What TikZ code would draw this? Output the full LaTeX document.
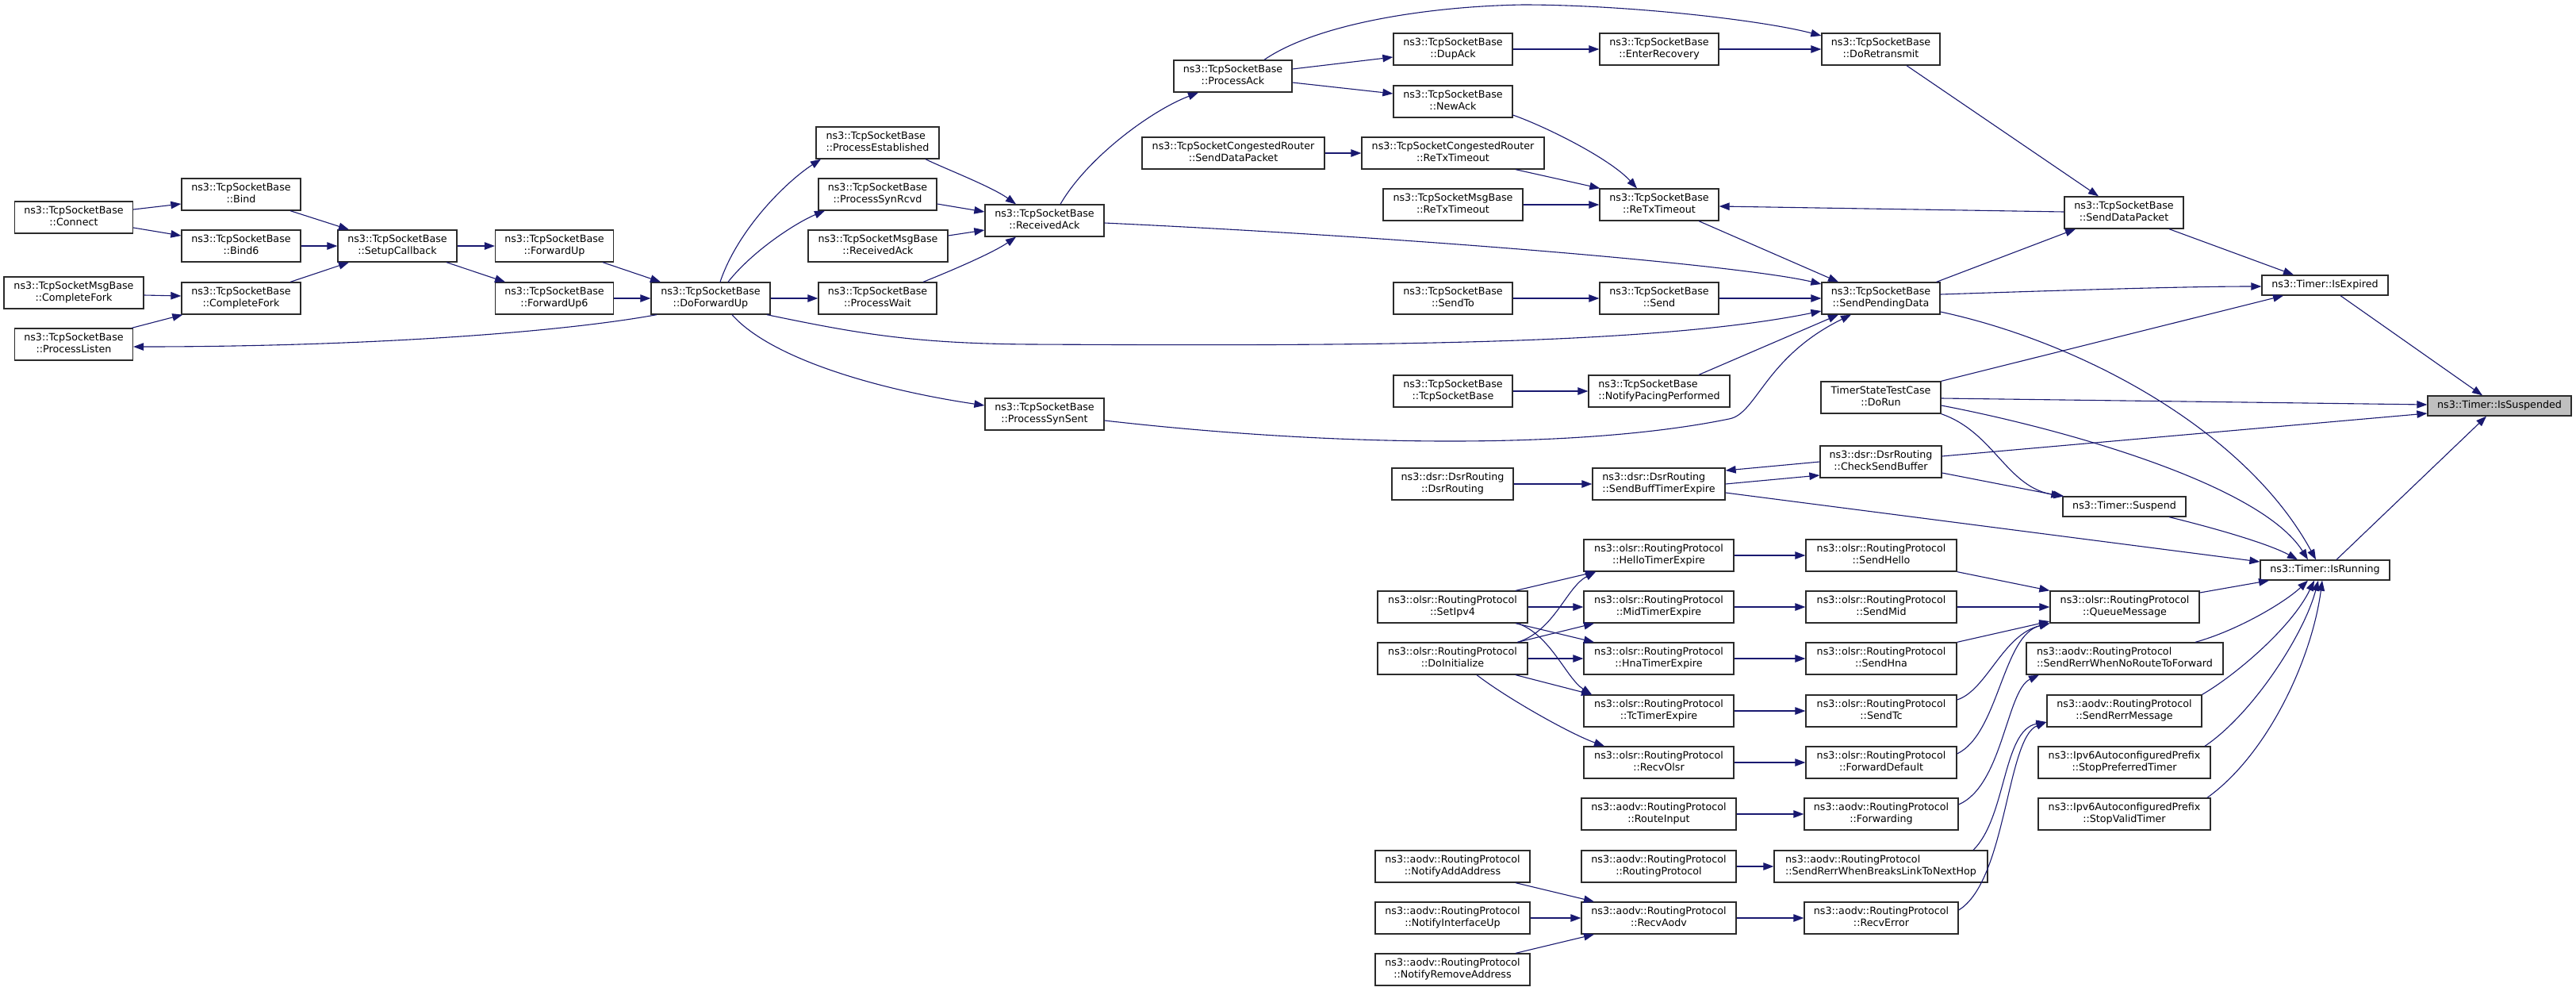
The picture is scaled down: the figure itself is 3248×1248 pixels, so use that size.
\documentclass[tikz,border=0pt]{standalone}
\usepackage{fontspec}
\setmainfont{DejaVu Sans}
\usetikzlibrary{arrows.meta,calc}
\definecolor{mblue}{HTML}{191970}
\definecolor{bcol}{HTML}{2B2B2B}
\definecolor{focus}{HTML}{BFBFBF}
\newdimen\twolw
\newcommand\lstrut{\rule[-4.5pt]{0pt}{15pt}}
\newcommand\twol[2]{%
  \setbox0=\hbox{\lstrut #1}\setbox2=\hbox{\lstrut #2}%
  \ifdim\wd0>\wd2 \twolw=\wd0 \else \twolw=\wd2 \fi
  \vbox{\offinterlineskip\hbox to\twolw{\unhcopy0\hfil}\hbox to\twolw{\hfil\unhcopy2\hfil}}}
\begin{document}
\begin{tikzpicture}[x=1pt,y=-1pt,
  nbox/.style={draw=bcol, line width=1.3pt, fill=white, rectangle, inner sep=0pt, minimum height=40pt, font=\fontsize{12.7pt}{15pt}\selectfont},
  sbox/.style={nbox, minimum height=25pt},
  bw/.style={minimum width=#1pt},
  cedge/.style={draw=mblue, line width=1.1pt, -{Triangle[length=13pt,width=9.5pt]}}]
\fill[white] (0,0) rectangle (3248,1248);
\useasboundingbox (0,0) rectangle (3248,1248);
% ---- nodes
\node[nbox,bw=149] (connect) at (93,274) {\twol{ns3::TcpSocketBase}{::Connect}};
\node[nbox,bw=150] (bind) at (304,245) {\twol{ns3::TcpSocketBase}{::Bind}};
\node[nbox,bw=150] (bind6) at (304,310) {\twol{ns3::TcpSocketBase}{::Bind6}};
\node[nbox,bw=176] (msgcfork) at (93,369) {\twol{ns3::TcpSocketMsgBase}{::CompleteFork}};
\node[nbox,bw=150] (cfork) at (304,376) {\twol{ns3::TcpSocketBase}{::CompleteFork}};
\node[nbox,bw=149] (plisten) at (93,434) {\twol{ns3::TcpSocketBase}{::ProcessListen}};
\node[nbox,bw=150] (setup) at (501,310) {\twol{ns3::TcpSocketBase}{::SetupCallback}};
\node[nbox,bw=149] (fwdup) at (699,310) {\twol{ns3::TcpSocketBase}{::ForwardUp}};
\node[nbox,bw=149] (fwdup6) at (699,376) {\twol{ns3::TcpSocketBase}{::ForwardUp6}};
\node[nbox,bw=150] (dofwd) at (896,376) {\twol{ns3::TcpSocketBase}{::DoForwardUp}};
\node[nbox,bw=155] (pest) at (1106.5,180) {\twol{ns3::TcpSocketBase}{::ProcessEstablished}};
\node[nbox,bw=149] (psynrcvd) at (1106.5,245) {\twol{ns3::TcpSocketBase}{::ProcessSynRcvd}};
\node[nbox,bw=176] (msgrack) at (1107,310) {\twol{ns3::TcpSocketMsgBase}{::ReceivedAck}};
\node[nbox,bw=149] (pwait) at (1106.5,376) {\twol{ns3::TcpSocketBase}{::ProcessWait}};
\node[nbox,bw=150] (psynsent) at (1317,522) {\twol{ns3::TcpSocketBase}{::ProcessSynSent}};
\node[nbox,bw=150] (rack) at (1317,278) {\twol{ns3::TcpSocketBase}{::ReceivedAck}};
\node[nbox,bw=149] (pack) at (1554.5,96) {\twol{ns3::TcpSocketBase}{::ProcessAck}};
\node[nbox,bw=230] (crsdp) at (1555,193) {\twol{ns3::TcpSocketCongestedRouter}{::SendDataPacket}};
\node[nbox,bw=150] (dupack) at (1832,62) {\twol{ns3::TcpSocketBase}{::DupAck}};
\node[nbox,bw=150] (newack) at (1832,128) {\twol{ns3::TcpSocketBase}{::NewAck}};
\node[nbox,bw=230] (crretx) at (1832,193) {\twol{ns3::TcpSocketCongestedRouter}{::ReTxTimeout}};
\node[nbox,bw=176] (msgretx) at (1832,258) {\twol{ns3::TcpSocketMsgBase}{::ReTxTimeout}};
\node[nbox,bw=150] (sendto) at (1832,376) {\twol{ns3::TcpSocketBase}{::SendTo}};
\node[nbox,bw=150] (tsbctor) at (1832,493) {\twol{ns3::TcpSocketBase}{::TcpSocketBase}};
\node[nbox,bw=153] (dsrctor) at (1831.5,610) {\twol{ns3::dsr::DsrRouting}{::DsrRouting}};
\node[nbox,bw=189] (setipv4) at (1831.5,765) {\twol{ns3::olsr::RoutingProtocol}{::SetIpv4}};
\node[nbox,bw=189] (doinit) at (1831.5,830) {\twol{ns3::olsr::RoutingProtocol}{::DoInitialize}};
\node[nbox,bw=195] (notifyadd) at (1831.5,1092) {\twol{ns3::aodv::RoutingProtocol}{::NotifyAddAddress}};
\node[nbox,bw=195] (notifyif) at (1831.5,1157) {\twol{ns3::aodv::RoutingProtocol}{::NotifyInterfaceUp}};
\node[nbox,bw=195] (notifyrem) at (1831.5,1222) {\twol{ns3::aodv::RoutingProtocol}{::NotifyRemoveAddress}};
\node[nbox,bw=150] (enterrec) at (2092,62) {\twol{ns3::TcpSocketBase}{::EnterRecovery}};
\node[nbox,bw=150] (retx) at (2092,258) {\twol{ns3::TcpSocketBase}{::ReTxTimeout}};
\node[nbox,bw=150] (send) at (2092,376) {\twol{ns3::TcpSocketBase}{::Send}};
\node[nbox,bw=178] (notifypacing) at (2092,493) {\twol{ns3::TcpSocketBase}{::NotifyPacingPerformed}};
\node[nbox,bw=167] (sbte) at (2091.5,610) {\twol{ns3::dsr::DsrRouting}{::SendBuffTimerExpire}};
\node[nbox,bw=189] (hello) at (2091.5,700) {\twol{ns3::olsr::RoutingProtocol}{::HelloTimerExpire}};
\node[nbox,bw=189] (midte) at (2091.5,765) {\twol{ns3::olsr::RoutingProtocol}{::MidTimerExpire}};
\node[nbox,bw=189] (hnate) at (2091.5,830) {\twol{ns3::olsr::RoutingProtocol}{::HnaTimerExpire}};
\node[nbox,bw=189] (tcte) at (2091.5,896) {\twol{ns3::olsr::RoutingProtocol}{::TcTimerExpire}};
\node[nbox,bw=189] (recvolsr) at (2091.5,961) {\twol{ns3::olsr::RoutingProtocol}{::RecvOlsr}};
\node[nbox,bw=195] (routeinput) at (2091.5,1026) {\twol{ns3::aodv::RoutingProtocol}{::RouteInput}};
\node[nbox,bw=195] (aodvrp) at (2091.5,1092) {\twol{ns3::aodv::RoutingProtocol}{::RoutingProtocol}};
\node[nbox,bw=195] (recvaodv) at (2091.5,1157) {\twol{ns3::aodv::RoutingProtocol}{::RecvAodv}};
\node[nbox,bw=149] (doretx) at (2371.5,62) {\twol{ns3::TcpSocketBase}{::DoRetransmit}};
\node[nbox,bw=149] (spd) at (2371.5,376) {\twol{ns3::TcpSocketBase}{::SendPendingData}};
\node[nbox,bw=151] (dorun) at (2371.5,501) {\twol{TimerStateTestCase}{::DoRun}};
\node[nbox,bw=153] (csb) at (2371.5,582) {\twol{ns3::dsr::DsrRouting}{::CheckSendBuffer}};
\node[nbox,bw=190] (sendhello) at (2372,700) {\twol{ns3::olsr::RoutingProtocol}{::SendHello}};
\node[nbox,bw=190] (sendmid) at (2372,765) {\twol{ns3::olsr::RoutingProtocol}{::SendMid}};
\node[nbox,bw=190] (sendhna) at (2372,830) {\twol{ns3::olsr::RoutingProtocol}{::SendHna}};
\node[nbox,bw=190] (sendtc) at (2372,896) {\twol{ns3::olsr::RoutingProtocol}{::SendTc}};
\node[nbox,bw=190] (fwddef) at (2372,961) {\twol{ns3::olsr::RoutingProtocol}{::ForwardDefault}};
\node[nbox,bw=194] (forwarding) at (2372,1026) {\twol{ns3::aodv::RoutingProtocol}{::Forwarding}};
\node[nbox,bw=269] (srwbl) at (2371.5,1092) {\twol{ns3::aodv::RoutingProtocol}{::SendRerrWhenBreaksLinkToNextHop}};
\node[nbox,bw=194] (recverror) at (2372,1157) {\twol{ns3::aodv::RoutingProtocol}{::RecvError}};
\node[nbox,bw=150] (sdp) at (2678,268) {\twol{ns3::TcpSocketBase}{::SendDataPacket}};
\node[sbox,bw=155] (suspend) at (2678.5,638.5) {\lstrut ns3::Timer::Suspend};
\node[nbox,bw=188] (queuemsg) at (2679,765) {\twol{ns3::olsr::RoutingProtocol}{::QueueMessage}};
\node[nbox,bw=248] (srwnr) at (2679,830) {\twol{ns3::aodv::RoutingProtocol}{::SendRerrWhenNoRouteToForward}};
\node[nbox,bw=195] (srmsg) at (2678.5,896) {\twol{ns3::aodv::RoutingProtocol}{::SendRerrMessage}};
\node[nbox,bw=217] (stoppref) at (2678.5,961) {\twol{ns3::Ipv6AutoconfiguredPrefix}{::StopPreferredTimer}};
\node[nbox,bw=217] (stopvalid) at (2678.5,1026) {\twol{ns3::Ipv6AutoconfiguredPrefix}{::StopValidTimer}};
\node[sbox,bw=159] (isexpired) at (2931.5,359.5) {\lstrut ns3::Timer::IsExpired};
\node[sbox,bw=163] (isrunning) at (2931.5,718.5) {\lstrut ns3::Timer::IsRunning};
\node[sbox,bw=181,fill=focus] (issusp) at (3151.5,511.5) {\lstrut ns3::Timer::IsSuspended};
% ---- edges
\draw[cedge] ($(connect.east)+(0,-10)$) -- ($(bind.west)+(0,12)$);
\draw[cedge] ($(connect.east)+(0,13)$) -- ($(bind6.west)+(0,-13)$);
\draw[cedge] ($(bind.south)+(62,0)$) -- ($(setup.north)+(-61,0)$);
\draw[cedge] (bind6.east) -- (setup.west);
\draw[cedge] ($(cfork.north)+(62,0)$) -- ($(setup.south)+(-61,0)$);
\draw[cedge] ($(msgcfork.east)+(0,3)$) -- ($(cfork.west)+(0,-3)$);
\draw[cedge] ($(plisten.north east)+(-2,0)$) -- ($(cfork.south west)+(2,0)$);
\draw[cedge] (setup.east) -- (fwdup.west);
\draw[cedge] ($(setup.south)+(62,0)$) -- ($(fwdup6.north)+(-62,0)$);
\draw[cedge] ($(fwdup.south)+(61,0)$) -- ($(dofwd.north)+(-63,0)$);
\draw[cedge] (fwdup6.east) -- (dofwd.west);
\draw[cedge] ($(dofwd.south)+(-68,0)$) .. controls (700,420) and (450,437) .. ($(plisten.east)+(0,3)$);
\draw[cedge] ($(dofwd.north)+(12,0)$) .. controls (930,290) and (990,230) .. ($(pest.south)+(-71.5,0)$);
\draw[cedge] ($(dofwd.north)+(22,0)$) .. controls (950,315) and (1005,280) .. ($(psynrcvd.south)+(-66.5,0)$);
\draw[cedge] (dofwd.east) -- (pwait.west);
\draw[cedge] ($(dofwd.south)+(27,0)$) .. controls (970,450) and (1100,490) .. ($(psynsent.west)+(0,-11)$);
\draw[cedge] ($(dofwd.south)+(71,0)$) .. controls (1080,420) and (1150,433) .. (1300,434) .. controls (1700,436) and (2080,436) .. ($(spd.west)+(0,16)$);
\draw[cedge] ($(pest.south)+(60.5,0)$) .. controls (1190,212) and (1250,235) .. ($(rack.north)+(-36,0)$);
\draw[cedge] ($(psynrcvd.east)+(0,12)$) -- ($(rack.west)+(0,-11)$);
\draw[cedge] ($(msgrack.east)+(0,-13)$) -- ($(rack.west)+(0,12)$);
\draw[cedge] ($(pwait.north)+(57.5,0)$) .. controls (1190,345) and (1250,320) .. ($(rack.south)+(-36,0)$);
\draw[cedge] ($(rack.north)+(20,0)$) .. controls (1370,200) and (1450,140) .. ($(pack.south)+(-43.5,0)$);
\draw[cedge] ($(rack.east)+(0,3)$) .. controls (1800,300) and (2200,335) .. ($(spd.west)+(0,-18)$);
\draw[cedge] ($(pack.east)+(0,-9)$) -- ($(dupack.west)+(0,10)$);
\draw[cedge] ($(pack.east)+(0,8)$) -- ($(newack.west)+(0,-10)$);
\draw[cedge] ($(pack.north)+(39.5,0)$) .. controls (1660,30) and (1800,8) .. (1920,6) .. controls (2050,6) and (2220,25) .. ($(doretx.west)+(0,-17)$);
\draw[cedge] (dupack.east) -- (enterrec.west);
\draw[cedge] (enterrec.east) -- (doretx.west);
\draw[cedge] ($(newack.east)+(0,17)$) .. controls (1950,160) and (2030,200) .. ($(retx.north)+(-28,0)$);
\draw[cedge] (crsdp.east) -- (crretx.west);
\draw[cedge] ($(crretx.south)+(79,0)$) -- ($(retx.north west)+(1,0)$);
\draw[cedge] (msgretx.east) -- (retx.west);
\draw[cedge] ($(sdp.west)+(0,-1)$) -- ($(retx.east)+(0,2)$);
\draw[cedge] ($(retx.south)+(50,0)$) -- ($(spd.north)+(-53.5,0)$);
\draw[cedge] (sendto.east) -- (send.west);
\draw[cedge] (send.east) -- (spd.west);
\draw[cedge] ($(doretx.south)+(32.5,0)$) -- ($(sdp.north)+(-32,0)$);
\draw[cedge] ($(spd.north east)+(-5,0)$) -- ($(sdp.south)+(-61,0)$);
\draw[cedge] ($(sdp.south)+(57,0)$) -- ($(isexpired.north)+(-39.5,0)$);
\draw[cedge] ($(spd.east)+(0,-5)$) .. controls (2600,366) and (2750,361) .. ($(isexpired.west)+(0,1.5)$);
\draw[cedge] (dorun.north east) -- ($(isexpired.south)+(-52.5,0)$);
\draw[cedge] ($(isexpired.south)+(19.5,0)$) -- ($(issusp.north)+(-21.5,0)$);
\draw[cedge] ($(spd.east)+(0,17)$) .. controls (2620,430) and (2830,540) .. ($(isrunning.north)+(-11.5,0)$);
\draw[cedge] ($(dorun.east)+(0,1)$) -- ($(issusp.west)+(0,-1.5)$);
\draw[cedge] ($(dorun.east)+(0,10)$) .. controls (2600,540) and (2850,610) .. ($(isrunning.north)+(-21.5,0)$);
\draw[cedge] (dorun.south east) .. controls (2515,545) and (2530,615) .. ($(suspend.north west)+(2,0)$);
\draw[cedge] ($(csb.east)+(0,-7)$) -- ($(issusp.west)+(0,9.5)$);
\draw[cedge] ($(csb.east)+(0,14)$) -- ($(suspend.north west)+(-1,0)$);
\draw[cedge] ($(sbte.east)+(0,11)$) -- ($(isrunning.west)+(0,-10.5)$);
\draw[cedge] ($(suspend.south)+(56.5,0)$) .. controls (2790,665) and (2860,685) .. ($(isrunning.north)+(-34.5,0)$);
\draw[cedge] ($(isrunning.north)+(14.5,0)$) -- ($(issusp.south)+(-16.5,0)$);
\draw[cedge] (sendhello.south east) -- (queuemsg.north west);
\draw[cedge] (sendmid.east) -- (queuemsg.west);
\draw[cedge] (sendhna.north east) -- ($(queuemsg.west)+(0,18)$);
\draw[cedge] ($(queuemsg.east)+(0,-18)$) -- ($(isrunning.south)+(-70.5,0)$);
\draw[cedge] ($(srwnr.north)+(89,0)$) .. controls (2820,795) and (2880,760) .. ($(isrunning.south)+(-21.5,0)$);
\draw[cedge] (srmsg.north east) .. controls (2820,850) and (2890,790) .. ($(isrunning.south)+(-13.5,0)$);
\draw[cedge] ($(stoppref.north)+(101.5,0)$) .. controls (2840,900) and (2905,800) .. ($(isrunning.south)+(-8.5,0)$);
\draw[cedge] ($(stopvalid.north)+(104.5,0)$) .. controls (2860,950) and (2915,830) .. ($(isrunning.south)+(-3.5,0)$);
\draw[cedge] ($(sendtc.east)+(0,-14)$) .. controls (2505,870) and (2525,800) .. (queuemsg.south west);
\draw[cedge] ($(fwddef.east)+(0,-11)$) .. controls (2520,925) and (2525,800) .. (queuemsg.south west);
\draw[cedge] ($(forwarding.east)+(0,-12)$) .. controls (2525,990) and (2530,870) .. ($(srwnr.south)+(-108,0)$);
\draw[cedge] ($(srwbl.north)+(116.5,0)$) .. controls (2530,1030) and (2525,920) .. ($(srmsg.west)+(0,14)$);
\draw[cedge] ($(recverror.east)+(0,-10)$) .. controls (2530,1110) and (2530,930) .. ($(srmsg.west)+(0,14)$);
\draw[cedge] (tsbctor.east) -- (notifypacing.west);
\draw[cedge] ($(notifypacing.north)+(50,0)$) -- ($(spd.south)+(-53.5,0)$);
\draw[cedge] ($(psynsent.east)+(0,8)$) .. controls (1700,565) and (2000,565) .. (2180,528) .. controls (2215,522) and (2225,450) .. ($(spd.south)+(-37.5,0)$);
\draw[cedge] (dsrctor.east) -- (sbte.west);
\draw[cedge] (csb.west) -- ($(sbte.east)+(0,-17)$);
\draw[cedge] (sbte.east) -- ($(csb.west)+(0,17)$);
\draw[cedge] (hello.east) -- (sendhello.west);
\draw[cedge] (midte.east) -- (sendmid.west);
\draw[cedge] (hnate.east) -- (sendhna.west);
\draw[cedge] ($(setipv4.north)+(79.5,0)$) -- ($(hello.south)+(-79.5,0)$);
\draw[cedge] (setipv4.east) -- (midte.west);
\draw[cedge] ($(setipv4.south)+(79.5,0)$) -- ($(hnate.north)+(-81.5,0)$);
\draw[cedge] ($(setipv4.south)+(82,0)$) .. controls (1955,800) and (1975,855) .. ($(tcte.north)+(-84.5,0)$);
\draw[cedge] ($(doinit.north)+(82,0)$) .. controls (1960,795) and (1975,740) .. ($(hello.south)+(-79.5,0)$);
\draw[cedge] ($(doinit.north)+(82,0)$) -- ($(midte.south)+(-81.5,0)$);
\draw[cedge] (doinit.east) -- (hnate.west);
\draw[cedge] ($(doinit.south)+(79.5,0)$) -- ($(tcte.north)+(-84.5,0)$);
\draw[cedge] ($(doinit.south)+(30.5,0)$) .. controls (1900,880) and (1980,925) .. ($(recvolsr.north)+(-68.5,0)$);
\draw[cedge] (tcte.east) -- (sendtc.west);
\draw[cedge] (recvolsr.east) -- (fwddef.west);
\draw[cedge] (routeinput.east) -- (forwarding.west);
\draw[cedge] (aodvrp.east) -- (srwbl.west);
\draw[cedge] ($(notifyadd.south)+(79.5,0)$) -- ($(recvaodv.north)+(-81.5,0)$);
\draw[cedge] (notifyif.east) -- (recvaodv.west);
\draw[cedge] ($(notifyrem.north)+(79.5,0)$) -- ($(recvaodv.south)+(-81.5,0)$);
\draw[cedge] (recvaodv.east) -- (recverror.west);
\end{tikzpicture}
\end{document}
